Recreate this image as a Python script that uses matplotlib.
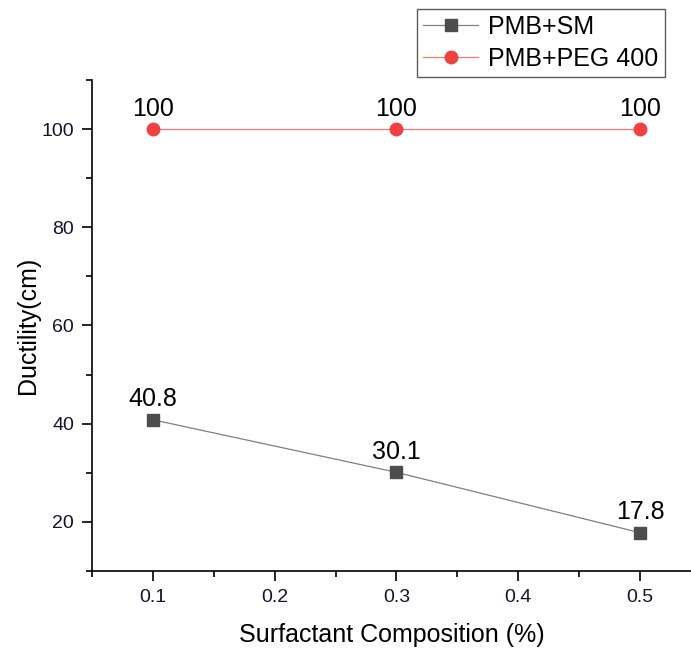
import matplotlib
matplotlib.use("Agg")
import matplotlib.pyplot as plt
from matplotlib.ticker import MultipleLocator

plt.rcParams['font.family'] = ['Liberation Sans', 'DejaVu Sans']

# data
composition = [0.1, 0.3, 0.5]
ductility_sm = [40.8, 30.1, 17.8]
ductility_peg = [100, 100, 100]
labels_sm = ["40.8", "30.1", "17.8"]
labels_peg = ["100", "100", "100"]

fig = plt.figure(figsize=(6.91, 6.5), dpi=100)
ax = fig.add_axes([0.1331, 0.1215, 0.8669, 0.7555])

ax.plot(composition, ductility_sm, color='#808080', linewidth=0.9,
        marker='s', markersize=8, markerfacecolor='#4d4d4d',
        markeredgecolor='#4d4d4d', label='PMB+SM')
ax.plot(composition, ductility_peg, color='#f47a7a', linewidth=0.9,
        marker='o', markersize=9, markerfacecolor='#f04141',
        markeredgecolor='#f04141', label='PMB+PEG 400')

for x, y, t in zip(composition, ductility_sm, labels_sm):
    ax.annotate(t, (x, y), xytext=(0, 6), textcoords='offset points',
                ha='center', va='bottom', fontsize=18)
for x, y, t in zip(composition, ductility_peg, labels_peg):
    ax.annotate(t, (x, y), xytext=(0, 6), textcoords='offset points',
                ha='center', va='bottom', fontsize=18)

ax.set_xlim(0.05, 0.5418)
ax.set_ylim(10, 110)
ax.xaxis.set_major_locator(MultipleLocator(0.1))
ax.xaxis.set_minor_locator(MultipleLocator(0.05))
ax.yaxis.set_major_locator(MultipleLocator(20))
ax.yaxis.set_minor_locator(MultipleLocator(10))
ax.set_yticks([20, 40, 60, 80, 100])

for side in ['top', 'right']:
    ax.spines[side].set_visible(False)
for side in ['left', 'bottom']:
    ax.spines[side].set_linewidth(1.2)

ax.tick_params(which='major', direction='out', length=7, width=1.2,
               labelsize=14, labelcolor='#14142a', pad=6)
ax.tick_params(which='minor', direction='out', length=4, width=1.2)

ax.set_xlabel('Surfactant Composition (%)', fontsize=18, labelpad=12)
ax.set_ylabel('Ductility(cm)', fontsize=18, labelpad=1)

leg = ax.legend(loc='upper left', bbox_to_anchor=(0.5426, 1.1446),
                bbox_transform=ax.transAxes, fontsize=18, frameon=True,
                fancybox=False, edgecolor='#333333', borderpad=0.25,
                handlelength=2.2, labelspacing=0.3, handletextpad=0.4,
                borderaxespad=0)
leg.get_frame().set_linewidth(1.0)

fig.savefig('out.png', dpi=100)
